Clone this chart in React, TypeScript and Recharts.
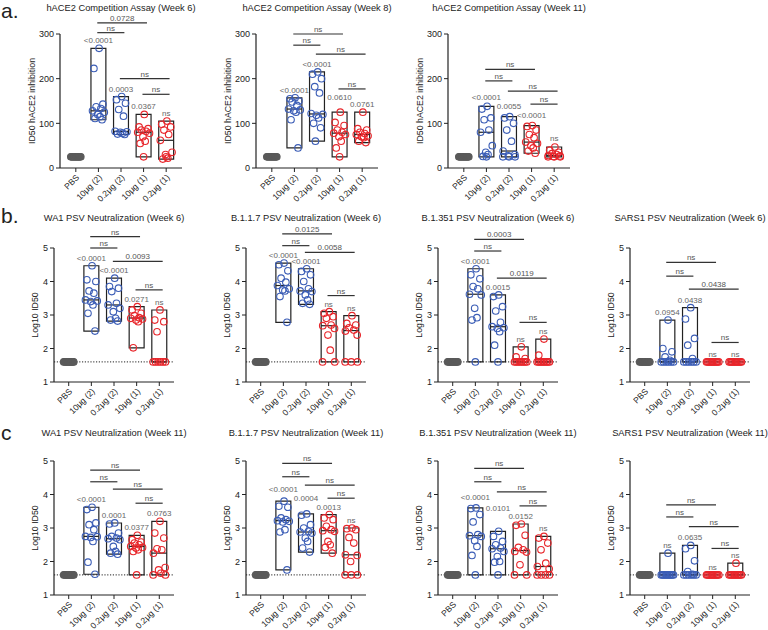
import React from 'react';
import {
  ComposedChart,
  Scatter,
  XAxis,
  YAxis,
  ReferenceArea,
  ReferenceLine,
  ReferenceDot
} from 'recharts';

const FONT = '"Liberation Sans", Arial, Helvetica, sans-serif';
const BLUE = '#3b5db6';
const RED = '#e8262b';
const GRAY = '#5a5a5a';
const INK = '#222';

const GROUPS = ['PBS', '10μg (2)', '0.2μg (2)', '10μg (1)', '0.2μg (1)'];
const DOT_COLORS = [GRAY, BLUE, BLUE, RED, RED];

// [from group, to group, level, label]
type Bracket = [number, number, number, string];

// a. hACE2 competition, week 6
const ace2W6 = [
  [25, 25, 25, 25, 25, 25, 25, 25, 25, 25],
  [268, 223, 143, 137, 133, 128, 125, 120, 115, 111, 108],
  [160, 153, 145, 131, 116, 82, 81, 80, 78, 76, 75],
  [120, 92, 88, 85, 82, 80, 78, 70, 60, 55, 25],
  [105, 98, 92, 85, 75, 62, 35, 30, 25, 22, 20]
];
const ace2W6P = ['', '<0.0001', '0.0003', '0.0367', 'ns'];
const ace2W6Br: Bracket[] = [[1, 2, 303, 'ns'], [1, 3, 325, '0.0728'], [2, 4, 200, 'ns'], [3, 4, 165, 'ns']];

// hACE2 competition, week 8
const ace2W8 = [
  [25, 25, 25, 25, 25, 25, 25, 25, 25, 25],
  [157, 155, 150, 148, 140, 132, 130, 128, 125, 108, 45],
  [215, 210, 200, 182, 168, 122, 120, 118, 112, 100, 90, 60],
  [125, 102, 95, 85, 80, 78, 75, 70, 60, 45, 25],
  [125, 88, 85, 80, 77, 75, 72, 70, 68, 60, 57]
];
const ace2W8P = ['', '<0.0001', '<0.0001', '0.0610', '0.0761'];
const ace2W8Br: Bracket[] = [[1, 2, 275, 'ns'], [1, 3, 300, 'ns'], [2, 4, 255, 'ns'], [3, 4, 177, 'ns']];

// hACE2 competition, week 11
const ace2W11 = [
  [25, 25, 25, 25, 25, 25, 25, 25, 25, 25],
  [138, 132, 112, 108, 85, 80, 50, 35, 30, 26, 25],
  [115, 112, 100, 85, 60, 38, 30, 27, 25, 25, 25],
  [95, 93, 85, 75, 68, 58, 55, 50, 45, 38, 33],
  [47, 40, 35, 32, 30, 28, 27, 26, 25, 25, 25]
];
const ace2W11P = ['', '<0.0001', '0.0055', '<0.0001', 'ns'];
const ace2W11Br: Bracket[] = [[1, 2, 195, 'ns'], [1, 3, 221, 'ns'], [2, 4, 172, 'ns'], [3, 4, 143, 'ns']];

// b. PSV neutralization, week 6
const wa1W6 = [
  [1.6, 1.6, 1.6, 1.6, 1.6, 1.6, 1.6, 1.6, 1.6, 1.6],
  [4.47, 4.05, 4.0, 3.72, 3.65, 3.45, 3.42, 3.4, 3.3, 3.05, 2.52],
  [4.1, 3.85, 3.8, 3.7, 3.35, 3.3, 3.2, 3.1, 2.9, 2.85, 2.82],
  [3.25, 3.15, 3.05, 2.98, 2.92, 2.9, 2.88, 2.85, 2.8, 2.02],
  [3.15, 2.85, 2.8, 2.5, 1.6, 1.6, 1.6, 1.6, 1.6, 1.6]
];
const wa1W6P = ['', '<0.0001', '<0.0001', '0.0271', 'ns'];
const wa1W6Br: Bracket[] = [[1, 2, 5.0, 'ns'], [1, 3, 5.34, 'ns'], [2, 4, 4.6, '0.0093'], [3, 4, 3.75, 'ns']];

const b117W6 = [
  [1.6, 1.6, 1.6, 1.6, 1.6, 1.6, 1.6, 1.6, 1.6, 1.6],
  [4.55, 4.5, 4.32, 4.1, 3.98, 3.88, 3.78, 3.75, 3.72, 3.55, 2.78],
  [4.38, 4.3, 4.2, 4.0, 3.78, 3.72, 3.7, 3.6, 3.45, 3.35, 3.32],
  [3.1, 3.05, 2.95, 2.9, 2.7, 2.68, 2.6, 2.4, 1.95, 1.6, 1.6],
  [2.98, 2.75, 2.7, 2.62, 2.55, 2.52, 2.4, 1.6, 1.6, 1.6]
];
const b117W6P = ['', '<0.0001', '<0.0001', 'ns', 'ns'];
const b117W6Br: Bracket[] = [[1, 2, 5.07, 'ns'], [1, 3, 5.42, '0.0125'], [2, 4, 4.87, '0.0058'], [3, 4, 3.58, 'ns']];

const b1351W6 = [
  [1.6, 1.6, 1.6, 1.6, 1.6, 1.6, 1.6, 1.6, 1.6, 1.6],
  [4.38, 4.2, 4.08, 3.85, 3.78, 3.62, 3.6, 3.2, 2.92, 2.85, 1.6],
  [3.6, 3.55, 3.25, 3.12, 2.78, 2.65, 2.62, 2.6, 2.5, 2.1, 1.6],
  [2.05, 1.75, 1.7, 1.6, 1.6, 1.6, 1.6, 1.6, 1.6, 1.6, 1.6],
  [2.28, 1.8, 1.6, 1.6, 1.6, 1.6, 1.6, 1.6, 1.6, 1.6, 1.6]
];
const b1351W6P = ['', '<0.0001', '0.0015', 'ns', 'ns'];
const b1351W6Br: Bracket[] = [[1, 2, 4.91, 'ns'], [1, 3, 5.26, '0.0003'], [2, 4, 4.1, '0.0119'], [3, 4, 2.78, 'ns']];

const sars1W6 = [
  [1.6, 1.6, 1.6, 1.6, 1.6, 1.6, 1.6, 1.6, 1.6, 1.6],
  [2.85, 2.0, 1.9, 1.75, 1.65, 1.6, 1.6, 1.6, 1.6, 1.6, 1.6],
  [3.22, 2.88, 2.3, 2.1, 1.7, 1.6, 1.6, 1.6, 1.6, 1.6, 1.6],
  [1.6, 1.6, 1.6, 1.6, 1.6, 1.6, 1.6, 1.6, 1.6, 1.6, 1.6],
  [1.6, 1.6, 1.6, 1.6, 1.6, 1.6, 1.6, 1.6, 1.6, 1.6, 1.6]
];
const sars1W6P = ['', '0.0954', '0.0438', 'ns', 'ns'];
const sars1W6Br: Bracket[] = [[1, 2, 4.16, 'ns'], [1, 3, 4.57, 'ns'], [2, 4, 3.77, '0.0438'], [3, 4, 2.18, 'ns']];

// c. PSV neutralization, week 11
const wa1W11 = [
  [1.6, 1.6, 1.6, 1.6, 1.6, 1.6, 1.6, 1.6, 1.6, 1.6],
  [3.62, 3.55, 3.15, 3.1, 2.95, 2.75, 2.74, 2.72, 2.6, 1.98, 1.62],
  [3.15, 3.12, 2.85, 2.75, 2.7, 2.68, 2.65, 2.45, 2.3, 2.25, 2.22],
  [2.78, 2.65, 2.58, 2.55, 2.5, 2.45, 2.42, 2.4, 2.35, 2.3, 1.6],
  [3.2, 2.85, 2.7, 2.38, 2.35, 2.25, 1.82, 1.75, 1.65, 1.6, 1.6]
];
const wa1W11P = ['', '<0.0001', '0.0001', '0.0377', '0.0763'];
const wa1W11Br: Bracket[] = [[1, 2, 4.38, 'ns'], [1, 3, 4.73, 'ns'], [2, 4, 4.16, 'ns'], [3, 4, 3.74, 'ns']];

const b117W11 = [
  [1.6, 1.6, 1.6, 1.6, 1.6, 1.6, 1.6, 1.6, 1.6, 1.6],
  [3.8, 3.65, 3.62, 3.3, 3.25, 3.22, 3.2, 3.18, 2.95, 2.88, 1.75],
  [3.42, 3.38, 3.1, 3.0, 2.9, 2.88, 2.85, 2.7, 2.6, 2.4, 2.28],
  [3.4, 3.3, 3.25, 3.05, 2.95, 2.92, 2.9, 2.6, 2.5, 2.42, 2.25],
  [3.0, 2.98, 2.95, 2.72, 2.55, 2.2, 2.18, 2.0, 1.6, 1.6, 1.6]
];
const b117W11P = ['', '<0.0001', '0.0004', '0.0013', 'ns'];
const b117W11Br: Bracket[] = [[1, 2, 4.53, 'ns'], [1, 3, 4.93, 'ns'], [2, 4, 4.28, 'ns'], [3, 4, 3.89, 'ns']];

const b1351W11 = [
  [1.6, 1.6, 1.6, 1.6, 1.6, 1.6, 1.6, 1.6, 1.6, 1.6],
  [3.6, 3.58, 3.4, 3.18, 2.8, 2.77, 2.75, 2.62, 2.45, 2.18, 1.6],
  [2.9, 2.75, 2.6, 2.5, 2.4, 2.38, 2.3, 2.15, 2.0, 1.98, 1.6],
  [3.12, 3.08, 2.78, 2.42, 2.35, 2.3, 2.28, 1.9, 1.6, 1.6],
  [2.75, 2.7, 2.55, 2.35, 1.95, 1.85, 1.78, 1.6, 1.6, 1.6, 1.6]
];
const b1351W11P = ['', '<0.0001', '0.0101', '0.0152', 'ns'];
const b1351W11Br: Bracket[] = [[1, 2, 4.38, 'ns'], [1, 3, 4.78, 'ns'], [2, 4, 4.08, 'ns'], [3, 4, 3.66, 'ns']];

const sars1W11 = [
  [1.6, 1.6, 1.6, 1.6, 1.6, 1.6, 1.6, 1.6, 1.6, 1.6],
  [2.25, 1.6, 1.6, 1.6, 1.6, 1.6, 1.6, 1.6, 1.6, 1.6, 1.6],
  [2.48, 2.38, 2.02, 1.7, 1.62, 1.6, 1.6, 1.6, 1.6, 1.6, 1.6],
  [1.6, 1.6, 1.6, 1.6, 1.6, 1.6, 1.6, 1.6, 1.6, 1.6, 1.6],
  [1.95, 1.6, 1.6, 1.6, 1.6, 1.6, 1.6, 1.6, 1.6, 1.6, 1.6]
];
const sars1W11P = ['', 'ns', '0.0635', 'ns', 'ns'];
const sars1W11Br: Bracket[] = [[1, 2, 3.33, 'ns'], [1, 3, 3.69, 'ns'], [2, 4, 3.04, 'ns'], [3, 4, 2.39, 'ns']];

// horizontal scatter of the dots inside a column
const JIT = [0.03, -0.2, 0.2, -0.1, 0.11, -0.26, 0.26, -0.03, 0.07, -0.15, 0.16, -0.07];
const HALF = 0.33;

function xOffsets(vals: number[], floor: number, spread: number) {
  const nFloor = vals.filter((v) => v === floor).length;
  let fi = 0;
  let oi = 0;
  return vals.map((v) => {
    if (v === floor) {
      const off = nFloor > 1 ? -spread + (2 * spread * fi) / (nFloor - 1) : 0;
      fi++;
      return off;
    }
    return JIT[oi++ % JIT.length];
  });
}

function median(vals: number[]) {
  const s = [...vals].sort((a, b) => a - b);
  const m = Math.floor(s.length / 2);
  return s.length % 2 ? s[m] : (s[m - 1] + s[m]) / 2;
}

const ring = (color: string, filled: boolean) => (props: any) => (
  <circle
    cx={props.cx}
    cy={props.cy}
    r={3.3}
    fill={filled ? color : 'none'}
    stroke={color}
    strokeWidth={1.1}
  />
);

function XTick(props: any) {
  const { x, y, payload } = props;
  const tx = x + 4;
  const ty = y + 4;
  return (
    <text
      x={tx}
      y={ty}
      transform={`rotate(-45 ${tx} ${ty})`}
      textAnchor="end"
      fontSize={8.5}
      fill={INK}
      fontFamily={FONT}
    >
      {GROUPS[payload.value]}
    </text>
  );
}

interface RowCfg {
  width: number;
  yW: number;
  plotW: number;
  mTop: number;
  plotH: number;
  xH: number;
  yLabel: string;
  labelDx: number;
  yDomain: [number, number];
  yTicks: number[];
  xDomain: [number, number];
  floor: number;
  dotted: number | null;
  pbsSpread: number;
}

interface PanelProps {
  left: number;
  top: number;
  title: string;
  titleY: number;
  values: number[][];
  pvals: string[];
  brackets: Bracket[];
  row: RowCfg;
  pLift?: number[];
}

const ROW_A: RowCfg = {
  width: 200, yW: 56, plotW: 122, mTop: 34, plotH: 134, xH: 48,
  yLabel: 'ID50 hACE2 inhibition', labelDx: 0,
  yDomain: [0, 300], yTicks: [0, 100, 200, 300], xDomain: [-0.7, 4.7],
  floor: 25, dotted: null, pbsSpread: 0.22
};

const ROW_BC: RowCfg = {
  width: 192, yW: 54, plotW: 120, mTop: 48, plotH: 134, xH: 48,
  yLabel: 'Log10 ID50', labelDx: 8,
  yDomain: [1, 5], yTicks: [1, 2, 3, 4, 5], xDomain: [-0.65, 4.65],
  floor: 1.6, dotted: 1.6, pbsSpread: 0.22
};

function Panel({ left, top, title, titleY, values, pvals, brackets, row, pLift }: PanelProps) {
  const height = row.mTop + row.plotH + row.xH + 2;
  const groups = values.map((vals, i) => {
    const offs = xOffsets(vals, row.floor, i === 0 ? row.pbsSpread : 0.27);
    return vals.map((v, k) => ({ x: i + offs[k], y: v }));
  });

  return (
    <div style={{ position: 'absolute', left, top, width: row.width, height }}>
      <div
        style={{
          position: 'absolute',
          left: row.yW + row.plotW / 2,
          top: titleY - 6,
          transform: 'translateX(-50%)',
          whiteSpace: 'nowrap',
          fontSize: 9.3,
          lineHeight: '12px',
          color: INK,
          fontFamily: FONT
        }}
      >
        {title}
      </div>
      <ComposedChart
        width={row.width}
        height={height}
        margin={{ top: row.mTop, right: row.width - row.yW - row.plotW, bottom: 2, left: 0 }}
      >
        <XAxis
          type="number"
          dataKey="x"
          domain={row.xDomain}
          ticks={[0, 1, 2, 3, 4]}
          interval={0}
          allowDataOverflow
          height={row.xH}
          tick={<XTick />}
          tickSize={4}
          axisLine={{ stroke: INK, strokeWidth: 1.2 }}
          tickLine={{ stroke: INK, strokeWidth: 1 }}
        />
        <YAxis
          type="number"
          dataKey="y"
          domain={row.yDomain}
          ticks={row.yTicks}
          interval={0}
          allowDataOverflow
          width={row.yW}
          tickSize={4}
          tickMargin={2}
          tick={{ fontSize: 9, fill: INK, fontFamily: FONT }}
          axisLine={{ stroke: INK, strokeWidth: 1.2 }}
          tickLine={{ stroke: INK, strokeWidth: 1 }}
          label={{
            value: row.yLabel,
            angle: -90,
            position: 'center',
            dx: row.labelDx,
            fontSize: 8.8,
            fill: INK,
            fontFamily: FONT
          }}
        />
        {row.dotted !== null && (
          <ReferenceLine y={row.dotted} stroke={INK} strokeWidth={1} strokeDasharray="1.2 1.6" />
        )}
        {values.map((vals, i) =>
          i === 0 ? null : (
            <ReferenceArea
              key={`box-${i}`}
              x1={i - HALF}
              x2={i + HALF}
              y1={Math.min(...vals)}
              y2={Math.max(...vals)}
              fill="none"
              fillOpacity={0}
              stroke={INK}
              strokeWidth={1.2}
            />
          )
        )}
        {groups.map((pts, i) => (
          <Scatter
            key={`pts-${i}`}
            data={pts}
            isAnimationActive={false}
            shape={ring(DOT_COLORS[i], i === 0)}
          />
        ))}
        {values.map((vals, i) =>
          i === 0 ? null : (
            <ReferenceLine
              key={`med-${i}`}
              segment={[
                { x: i - HALF, y: median(vals) },
                { x: i + HALF, y: median(vals) }
              ]}
              stroke={INK}
              strokeWidth={1.2}
            />
          )
        )}
        {pvals.map((txt, i) =>
          txt ? (
            <ReferenceDot
              key={`p-${i}`}
              x={i}
              y={Math.max(...values[i])}
              r={0}
              fill="none"
              stroke="none"
              ifOverflow="visible"
              label={{
                value: txt,
                position: 'top',
                offset: 5 + (pLift ? pLift[i] : 0),
                fontSize: 8,
                fill: '#666',
                fontFamily: FONT
              }}
            />
          ) : null
        )}
        {brackets.map(([a, b, lvl], k) => (
          <ReferenceLine
            key={`br-${k}`}
            segment={[
              { x: a - 0.05, y: lvl },
              { x: b + 0.15, y: lvl }
            ]}
            stroke="#333"
            strokeWidth={1.2}
            ifOverflow="visible"
          />
        ))}
        {brackets.map(([a, b, lvl, txt], k) => (
          <ReferenceDot
            key={`brl-${k}`}
            x={(a + b + 0.1) / 2}
            y={lvl}
            r={0}
            fill="none"
            stroke="none"
            ifOverflow="visible"
            label={{ value: txt, position: 'top', offset: 2, fontSize: 8, fill: '#555', fontFamily: FONT }}
          />
        ))}
      </ComposedChart>
    </div>
  );
}

const letterStyle: React.CSSProperties = {
  position: 'absolute',
  left: 1,
  fontSize: 21,
  lineHeight: '22px',
  color: INK,
  fontFamily: FONT
};

export default function App() {
  return (
    <div style={{ position: 'absolute', left: 0, top: 0, width: 768, height: 630, background: '#fff', overflow: 'hidden' }}>
      <div style={{ ...letterStyle, top: 0 }}>a.</div>
      <div style={{ ...letterStyle, top: 205 }}>b.</div>
      <div style={{ ...letterStyle, top: 422 }}>c</div>

      <Panel left={4} top={0} title="hACE2 Competition Assay (Week 6)" titleY={8}
        values={ace2W6} pvals={ace2W6P} brackets={ace2W6Br} row={ROW_A} />
      <Panel left={200} top={0} title="hACE2 Competition Assay (Week 8)" titleY={8}
        values={ace2W8} pvals={ace2W8P} brackets={ace2W8Br} row={ROW_A} pLift={[0, 0, 0, 7, 0]} />
      <Panel left={392} top={0} title="hACE2 Competition Assay (Week 11)" titleY={8}
        values={ace2W11} pvals={ace2W11P} brackets={ace2W11Br} row={ROW_A} pLift={[0, 1, 3, 3, 1]} />

      <Panel left={0} top={200} title="WA1 PSV Neutralization (Week 6)" titleY={18}
        values={wa1W6} pvals={wa1W6P} brackets={wa1W6Br} row={ROW_BC} />
      <Panel left={192} top={200} title="B.1.1.7 PSV Neutralization (Week 6)" titleY={18}
        values={b117W6} pvals={b117W6P} brackets={b117W6Br} row={ROW_BC} />
      <Panel left={384} top={200} title="B.1.351 PSV Neutralization (Week 6)" titleY={18}
        values={b1351W6} pvals={b1351W6P} brackets={b1351W6Br} row={ROW_BC} />
      <Panel left={576} top={200} title="SARS1 PSV Neutralization (Week 6)" titleY={18}
        values={sars1W6} pvals={sars1W6P} brackets={sars1W6Br} row={ROW_BC} />

      <Panel left={0} top={413} title="WA1 PSV Neutralization (Week 11)" titleY={20}
        values={wa1W11} pvals={wa1W11P} brackets={wa1W11Br} row={ROW_BC} />
      <Panel left={192} top={413} title="B.1.1.7 PSV Neutralization (Week 11)" titleY={20}
        values={b117W11} pvals={b117W11P} brackets={b117W11Br} row={ROW_BC} pLift={[0, 4, 8, 0, 0]} />
      <Panel left={384} top={413} title="B.1.351 PSV Neutralization (Week 11)" titleY={20}
        values={b1351W11} pvals={b1351W11P} brackets={b1351W11Br} row={ROW_BC} pLift={[0, 3, 15, 0, 0]} />
      <Panel left={576} top={413} title="SARS1 PSV Neutralization (Week 11)" titleY={20}
        values={sars1W11} pvals={sars1W11P} brackets={sars1W11Br} row={ROW_BC} />
    </div>
  );
}
